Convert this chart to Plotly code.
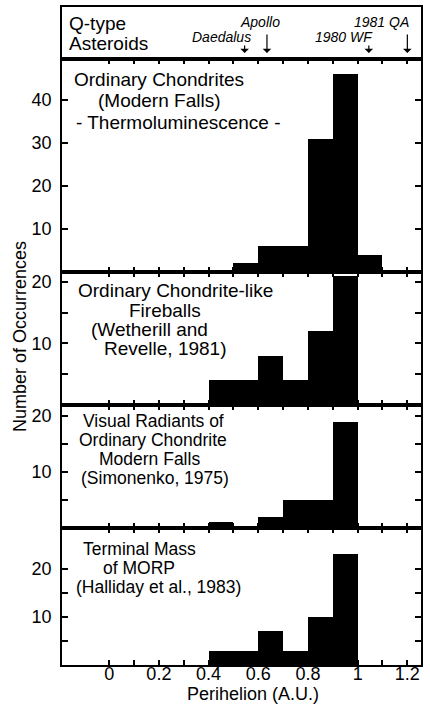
import plotly.graph_objects as go

# ---------------- data ----------------
bin_centers = [0.45, 0.55, 0.65, 0.75, 0.85, 0.95, 1.05]
tl_counts = [0, 2, 6, 6, 31, 46, 4]          # Ordinary chondrites, thermoluminescence
fireball_counts = [4, 4, 8, 4, 12, 21, 0]    # Wetherill and Revelle, 1981
radiant_counts = [1, 0, 2, 5, 5, 19, 0]      # Simonenko, 1975
morp_counts = [3, 3, 7, 3, 10, 23, 0]        # Halliday et al., 1983

asteroid_names = ["Daedalus", "Apollo", "1980 WF", "1981 QA"]
asteroid_q = [0.545, 0.635, 1.045, 1.2]

x_tickvals = [0, 0.1, 0.2, 0.3, 0.4, 0.5, 0.6, 0.7, 0.8, 0.9, 1.0, 1.1, 1.2]
x_ticktext = ["0", "", "0.2", "", "0.4", "", "0.6", "", "0.8", "", "1", "", "1.2"]

panel_counts = [tl_counts, fireball_counts, radiant_counts, morp_counts]
panel_ymax = [49.5, 21.6, 22.0, 28.5]
panel_yticks = [[10, 20, 30, 40], [5, 10, 15, 20], [5, 10, 15, 20], [5, 10, 15, 20]]
panel_yticktext = [["10", "20", "30", "40"], ["", "10", "", "20"],
                   ["", "10", "", "20"], ["", "10", "", "20"]]

panel_texts = [
    [("Ordinary Chondrites", 73, 79), ("(Modern Falls)", 97, 100),
     ("- Thermoluminescence -", 75, 122)],
    [("Ordinary Chondrite-like", 77, 290), ("Fireballs", 128, 310),
     ("(Wetherill and", 90, 329), ("Revelle, 1981)", 103, 348)],
    [("Visual Radiants of", 82, 421), ("Ordinary Chondrite", 78, 440),
     ("Modern Falls", 98, 459), ("(Simonenko, 1975)", 80, 478)],
    [("Terminal Mass", 82, 549), ("of MORP", 102, 568),
     ("(Halliday et al., 1983)", 75, 587)],
]
panel_font = [19, 19, 17.5, 17.5]

# ---------------- layout geometry (pixels) ----------------
W, H = 430, 704
L, R, T, B = 62, 421, 7, 665
edges = [7, 59, 272, 405, 528, 665]   # header, 4 panels


def py(p):
    return (B - p) / (B - T)


def px(p):
    return (p - L) / (R - L)


FONT = "Liberation Sans, Arial, Helvetica, sans-serif"
xrange_ = [-0.19, 1.255]

fig = go.Figure()
layout = dict(
    width=W, height=H,
    margin=dict(l=L, r=W - R, t=T, b=H - B, pad=0, autoexpand=False),
    paper_bgcolor="white", plot_bgcolor="white",
    showlegend=False,
    font=dict(family=FONT, size=18, color="black"),
    bargap=0,
)

# header axis
layout["xaxis"] = dict(domain=[0, 1], range=xrange_, showline=True, mirror=True,
                       linecolor="black", linewidth=1.5, showticklabels=False,
                       ticks="", showgrid=False, zeroline=False, anchor="y",
                       automargin=False)
layout["yaxis"] = dict(domain=[py(edges[1]), py(edges[0])], range=[0, 1],
                       showline=True, mirror=True, linecolor="black", linewidth=1.5,
                       showticklabels=False, ticks="", showgrid=False,
                       zeroline=False, anchor="x", automargin=False)
fig.add_trace(go.Scatter(x=[None], y=[None], xaxis="x", yaxis="y"))

for i, counts in enumerate(panel_counts):
    n = i + 2
    xa = f"xaxis{n}"
    ya = f"yaxis{n}"
    last = (i == 3)
    layout[xa] = dict(domain=[0, 1], range=xrange_, showline=True, mirror="ticks",
                      linecolor="black", linewidth=1.5, ticks="inside", ticklen=5,
                      tickcolor="black", tickwidth=1.5,
                      tickmode="array", tickvals=x_tickvals,
                      ticktext=x_ticktext, showticklabels=last,
                      tickfont=dict(size=18), ticklabelstandoff=-8,
                      showgrid=False, zeroline=False,
                      anchor=f"y{n}", automargin=False)
    layout[ya] = dict(domain=[py(edges[i + 2]), py(edges[i + 1])],
                      range=[0, panel_ymax[i]], showline=True, mirror="ticks",
                      linecolor="black", linewidth=1.5, ticks="inside", ticklen=6,
                      tickcolor="black", tickwidth=1.5,
                      tickmode="array", tickvals=panel_yticks[i],
                      ticktext=panel_yticktext[i], tickfont=dict(size=18),
                      ticklabelstandoff=5, automargin=False,
                      showgrid=False, zeroline=False, anchor=f"x{n}")
    fig.add_trace(go.Bar(x=bin_centers, y=counts, width=0.1,
                         marker=dict(color="black", line=dict(width=0)),
                         xaxis=f"x{n}", yaxis=f"y{n}"))

fig.update_layout(**layout)

ann = []
# header text
ann.append(dict(text="Q-type", x=px(67), y=py(23), xref="paper", yref="paper",
                xanchor="left", yanchor="middle", showarrow=False, font=dict(size=19)))
ann.append(dict(text="Asteroids", x=px(67), y=py(44), xref="paper", yref="paper",
                xanchor="left", yanchor="middle", showarrow=False, font=dict(size=19)))

label_rows = {"Daedalus": 37, "Apollo": 22, "1980 WF": 37, "1981 QA": 22}
label_shift = {"Daedalus": 8, "Apollo": 15, "1980 WF": 6, "1981 QA": 4}
arrow_len = {"Daedalus": 9, "Apollo": 20, "1980 WF": 9, "1981 QA": 20}
for name, q in zip(asteroid_names, asteroid_q):
    ann.append(dict(text=f"<i>{name}</i>", x=q, xref="x", y=py(label_rows[name]),
                    yref="paper", xanchor="right", yanchor="middle",
                    xshift=label_shift[name], showarrow=False,
                    font=dict(size=14)))
    ann.append(dict(text="", x=q, xref="x", y=py(53), yref="paper",
                    ax=0, ay=-arrow_len[name], axref="pixel", ayref="pixel",
                    showarrow=True, arrowhead=1, arrowsize=1.2, arrowwidth=1.2,
                    arrowcolor="black"))

for texts, fs in zip(panel_texts, panel_font):
    for t, xl, yc in texts:
        ann.append(dict(text=t, x=px(xl), y=py(yc), xref="paper", yref="paper",
                        xanchor="left", yanchor="middle", showarrow=False,
                        font=dict(size=fs), borderpad=0))

# axis titles
ann.append(dict(text="Number of Occurrences", x=px(20), y=py(337),
                xref="paper", yref="paper", textangle=-90, showarrow=False,
                xanchor="center", yanchor="middle", font=dict(size=18)))
ann.append(dict(text="Perihelion (A.U.)", x=px(253), y=py(694),
                xref="paper", yref="paper", showarrow=False,
                xanchor="center", yanchor="middle", font=dict(size=18),
                borderpad=0))
fig.update_layout(annotations=ann)

fig.write_html("out.html",
               config={"displayModeBar": False},
               post_script="document.body.style.margin='0px';"
                           "document.body.style.overflow='hidden';")
